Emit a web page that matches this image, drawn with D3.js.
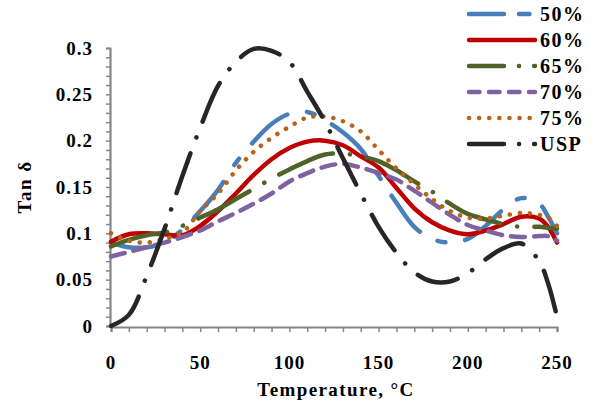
<!DOCTYPE html>
<html>
<head>
<meta charset="utf-8">
<script src="https://cdn.jsdelivr.net/npm/d3@7"></script>
<style>
  body { margin: 0; background: #fff; }
  text { font-family: "Liberation Serif", "DejaVu Serif", serif; font-weight: bold; fill: #000; }
</style>
</head>
<body>
<div id="chart"></div>
<script>
// temperature, °C
const temps = [0, 10, 20, 30, 40, 50, 60, 70, 80, 90, 100, 110, 120, 130, 140, 150, 160, 170, 180, 190, 200, 210, 220, 230, 240, 245, 250]

// tan delta per blend
const pct50 = [0.090, 0.085, 0.085, 0.090, 0.104, 0.124, 0.147, 0.176, 0.199, 0.218, 0.229, 0.231, 0.222, 0.209, 0.191, 0.162, 0.133, 0.107, 0.094, 0.090, 0.094, 0.108, 0.126, 0.138, 0.132, 0.118, 0.100]
const pct60 = [0.091, 0.099, 0.100, 0.099, 0.098, 0.108, 0.124, 0.143, 0.163, 0.180, 0.192, 0.199, 0.200, 0.195, 0.183, 0.171, 0.149, 0.127, 0.112, 0.103, 0.099, 0.103, 0.110, 0.118, 0.116, 0.107, 0.090]
const pct65 = [0.086, 0.093, 0.098, 0.101, 0.108, 0.117, 0.126, 0.137, 0.148, 0.159, 0.169, 0.178, 0.185, 0.186, 0.183, 0.178, 0.168, 0.156, 0.145, 0.132, 0.121, 0.115, 0.110, 0.107, 0.107, 0.106, 0.105]
const pct70 = [0.075, 0.080, 0.085, 0.090, 0.096, 0.103, 0.113, 0.122, 0.132, 0.143, 0.156, 0.165, 0.172, 0.175, 0.171, 0.165, 0.158, 0.146, 0.133, 0.120, 0.109, 0.103, 0.098, 0.096, 0.097, 0.097, 0.092]
const pct75 = [0.100, 0.092, 0.090, 0.094, 0.101, 0.124, 0.143, 0.168, 0.188, 0.203, 0.215, 0.225, 0.226, 0.221, 0.210, 0.190, 0.170, 0.153, 0.137, 0.124, 0.117, 0.116, 0.119, 0.122, 0.120, 0.117, 0.108]
const usp = [0.000, 0.012, 0.054, 0.105, 0.162, 0.214, 0.259, 0.285, 0.299, 0.297, 0.285, 0.253, 0.220, 0.181, 0.143, 0.107, 0.079, 0.058, 0.048, 0.048, 0.057, 0.072, 0.084, 0.089, 0.070, 0.046, 0.010]

const seriesNames = ['50%', '60%', '65%', '70%', '75%', 'USP']
const xTicks = [0, 50, 100, 150, 200, 250]
const yTicks = [0, 0.05, 0.1, 0.15, 0.2, 0.25, 0.3]

const lineWidth = 4.5
const styles = [
  { color: '#4a7ebb', dash: '46,20,8,20', key: '35,15,10.5,15' },
  { color: '#c00000', dash: null, key: null },
  { color: '#4f6228', dash: '58,17,0.1,17', key: '35,15,0.1,15' },
  { color: '#7f62a1', dash: '14,9', key: '10.5,9.5' },
  { color: '#b8621b', dash: '0.1,10', key: '0.1,10' },
  { color: '#262626', dash: '42,17,0.1,17', key: '35,15,0.1,15' }
]

const series = [pct50, pct60, pct65, pct70, pct75, usp].map((vals, i) => ({
  name: seriesNames[i],
  style: styles[i],
  points: vals.map((v, j) => ({ t: temps[j], v }))
}))

const W = 595
const H = 405

const x = d3.scaleLinear().domain([0, 250]).range([111, 557])
const y = d3.scaleLinear().domain([0, 0.3]).range([326, 48])

const svg = d3.select('#chart').append('svg')
  .attr('width', W)
  .attr('height', H)

// axes
const axisColor = '#868686'

const yAxis = svg.append('g')
  .attr('transform', `translate(${x(0) - 1}, 0)`)
  .call(d3.axisLeft(y).tickValues(d3.range(0, 0.3001, 0.01)).tickSize(4).tickFormat(''))
yAxis.select('.domain').attr('stroke', axisColor).attr('stroke-width', 2.2)
yAxis.selectAll('.tick line').attr('stroke', axisColor).attr('stroke-width', 1.5)

const xAxis = svg.append('g')
  .attr('transform', `translate(0, ${y(0) + 1})`)
  .call(d3.axisBottom(x).tickValues(d3.range(0, 251, 10)).tickSize(5).tickFormat(''))
xAxis.select('.domain').attr('stroke', axisColor).attr('stroke-width', 2.2)
xAxis.selectAll('.tick line').attr('stroke', axisColor).attr('stroke-width', 1.5)

// tick labels
svg.append('g').selectAll('text').data(yTicks).join('text')
  .attr('x', 93)
  .attr('y', (d) => y(d))
  .attr('dy', '0.35em')
  .attr('text-anchor', 'end')
  .attr('font-size', 19)
  .attr('letter-spacing', 1)
  .text((d) => d === 0 ? '0' : String(d))

svg.append('g').selectAll('text').data(xTicks).join('text')
  .attr('x', (d) => x(d))
  .attr('y', 369)
  .attr('text-anchor', 'middle')
  .attr('font-size', 19)
  .attr('letter-spacing', 1)
  .text((d) => d)

// axis titles
svg.append('text')
  .attr('x', 336)
  .attr('y', 396)
  .attr('text-anchor', 'middle')
  .attr('font-size', 19)
  .attr('letter-spacing', 1.4)
  .text('Temperature, °C')

svg.append('text')
  .attr('transform', 'translate(31, 187) rotate(-90)')
  .attr('text-anchor', 'middle')
  .attr('font-size', 19)
  .attr('letter-spacing', 1.5)
  .text('Tan δ')

// curves
const line = d3.line()
  .x((d) => x(d.t))
  .y((d) => y(d.v))
  .curve(d3.curveCatmullRom.alpha(0.5))

svg.append('g').selectAll('path').data(series).join('path')
  .attr('d', (d) => line(d.points))
  .attr('fill', 'none')
  .attr('stroke', (d) => d.style.color)
  .attr('stroke-width', lineWidth)
  .attr('stroke-linecap', 'round')
  .attr('stroke-dasharray', (d) => d.style.dash)

// legend
const legendRows = [14, 40, 66, 92, 118, 144]
const legend = svg.append('g').selectAll('g').data(series).join('g')
  .attr('transform', (d, i) => `translate(0, ${legendRows[i]})`)

legend.append('line')
  .attr('x1', 469)
  .attr('x2', 535)
  .attr('stroke', (d) => d.style.color)
  .attr('stroke-width', lineWidth)
  .attr('stroke-linecap', 'round')
  .attr('stroke-dasharray', (d) => d.style.key)

legend.append('text')
  .attr('x', 540)
  .attr('dy', '0.35em')
  .attr('font-size', 20)
  .attr('letter-spacing', 1.5)
  .text((d) => d.name)
</script>
</body>
</html>
